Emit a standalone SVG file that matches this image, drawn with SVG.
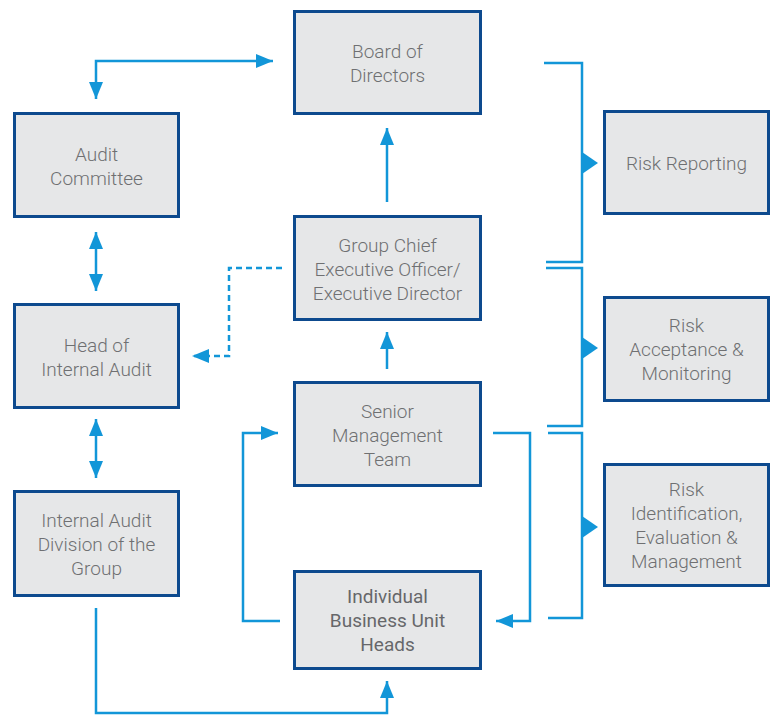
<svg xmlns="http://www.w3.org/2000/svg" width="770" height="715" viewBox="0 0 770 715">
<defs>
<style>
.box{fill:#e6e7e8;stroke:#0d4a8e;stroke-width:3}
.t{font-family:Roboto,"Liberation Sans",sans-serif;font-size:19px;font-weight:300;fill:#6f7072;text-anchor:middle}
.b{font-weight:400;fill:#66676a}
.c{fill:none;stroke:#1296d8;stroke-width:2.5}
.d{stroke-dasharray:6 4}
.h{fill:#1296d8}
</style>
<marker id="a" viewBox="0 0 17 14" refX="17" refY="7" markerWidth="17" markerHeight="14" markerUnits="userSpaceOnUse" orient="auto-start-reverse">
<path d="M0,0 L17,7 L0,14 z" fill="#1296d8"/>
</marker>
</defs>
<g id="board"><rect class="box" x="294.5" y="11.5" width="186" height="102"/><text class="t" x="387.5" y="58">Board of</text><text class="t" x="387.5" y="82">Directors</text></g>
<g id="audit-committee"><rect class="box" x="14.5" y="113.5" width="164" height="103"/><text class="t" x="96.5" y="161">Audit</text><text class="t" x="96.5" y="185">Committee</text></g>
<g id="head-ia"><rect class="box" x="14.5" y="304.5" width="164" height="103"/><text class="t" x="96.5" y="352">Head of</text><text class="t" x="96.5" y="376">Internal Audit</text></g>
<g id="ia-division"><rect class="box" x="14.5" y="491.5" width="164" height="104"/><text class="t" x="96.5" y="527">Internal Audit</text><text class="t" x="96.5" y="551">Division of the</text><text class="t" x="96.5" y="575">Group</text></g>
<g id="gceo"><rect class="box" x="294.5" y="216.5" width="186" height="103"/><text class="t" x="387.5" y="252">Group Chief</text><text class="t" x="387.5" y="276">Executive Officer/</text><text class="t" x="387.5" y="300">Executive Director</text></g>
<g id="smt"><rect class="box" x="294.5" y="382.5" width="186" height="103"/><text class="t" x="387.5" y="418">Senior</text><text class="t" x="387.5" y="442">Management</text><text class="t" x="387.5" y="466">Team</text></g>
<g id="bu-heads"><rect class="box" x="294.5" y="571.5" width="186" height="97"/><text class="t b" x="387.5" y="603">Individual</text><text class="t b" x="387.5" y="627">Business Unit</text><text class="t b" x="387.5" y="651">Heads</text></g>
<g id="risk-reporting"><rect class="box" x="604.5" y="111.5" width="164" height="102"/><text class="t" x="686.5" y="170">Risk Reporting</text></g>
<g id="risk-acceptance"><rect class="box" x="604.5" y="297.5" width="164" height="103"/><text class="t" x="686.5" y="332">Risk</text><text class="t" x="686.5" y="356">Acceptance &amp;</text><text class="t" x="686.5" y="380">Monitoring</text></g>
<g id="risk-identification"><rect class="box" x="604.5" y="464.5" width="164" height="121"/><text class="t" x="686.5" y="496">Risk</text><text class="t" x="686.5" y="520">Identification,</text><text class="t" x="686.5" y="544">Evaluation &amp;</text><text class="t" x="686.5" y="568">Management</text></g>
<g id="connectors">
<path class="c" d="M96,99 V61 H273" marker-start="url(#a)" marker-end="url(#a)"/>
<path class="c" d="M387,202 V128" marker-end="url(#a)"/>
<path class="c" d="M96,232 V291" marker-start="url(#a)" marker-end="url(#a)"/>
<path class="c" d="M96,419 V478" marker-start="url(#a)" marker-end="url(#a)"/>
<path class="c d" d="M282,268 H229 V356 H192" marker-end="url(#a)"/>
<path class="c" d="M387,369 V332" marker-end="url(#a)"/>
<path class="c" d="M280,621 H243 V433 H278" marker-end="url(#a)"/>
<path class="c" d="M493,433 H530 V621 H496" marker-end="url(#a)"/>
<path class="c" d="M96,608 V713 H387 V681" marker-end="url(#a)"/>
<path class="c" d="M544,63 H582 V262 H546"/>
<path class="c" d="M546,268 H582 V426 H547"/>
<path class="c" d="M548,433 H582 V618 H548"/>
<polygon class="h" points="582,152 598,163 582,174"/>
<polygon class="h" points="582,337 598,348 582,359"/>
<polygon class="h" points="582,516 598,527 582,538"/>
</g>
</svg>
